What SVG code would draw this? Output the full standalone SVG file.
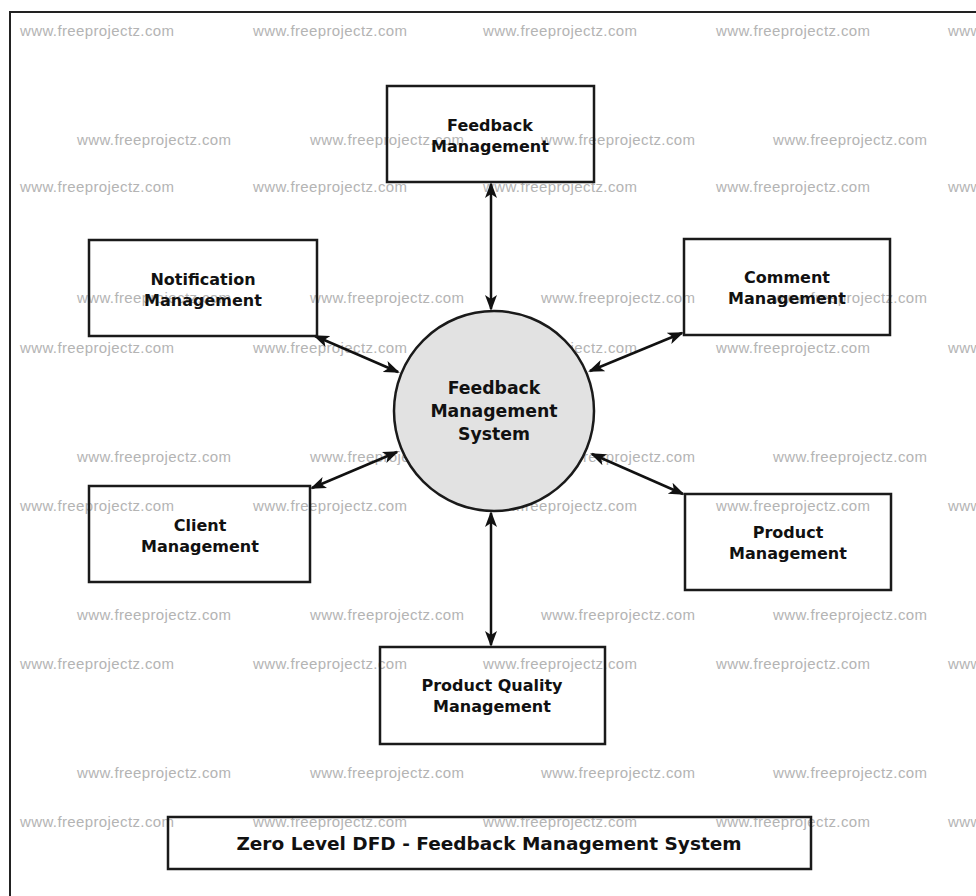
<svg xmlns="http://www.w3.org/2000/svg" width="976" height="896" viewBox="0 0 976 896">
<style>
.wm{font-family:"Liberation Sans",Arial,sans-serif;font-size:15px;fill:#b4b4b4}
.box{fill:none;stroke:#1a1a1a;stroke-width:2.5}
.lbl{font-family:"DejaVu Sans",sans-serif;font-weight:bold;font-size:16px;fill:#111;text-anchor:middle}
.big{font-size:17.3px}
.ttl{font-size:18.5px}
.conn{stroke:#111;stroke-width:2.5;fill:none;marker-start:url(#ah);marker-end:url(#ah)}
</style>
<defs>
<marker id="ah" markerUnits="userSpaceOnUse" markerWidth="18" markerHeight="14" refX="14" refY="6" orient="auto-start-reverse" viewBox="0 0 18 12">
<path d="M0,0 L16,6 L0,12 L4,6 Z" fill="#111"/>
</marker>
</defs>
<rect x="0" y="0" width="976" height="896" fill="#fff"/>
<rect x="10" y="12" width="990" height="900" fill="none" stroke="#222" stroke-width="2"/>
<g id="watermarks">
<text class="wm" x="20" y="36" textLength="154">www.freeprojectz.com</text>
<text class="wm" x="253" y="36" textLength="154">www.freeprojectz.com</text>
<text class="wm" x="483" y="36" textLength="154">www.freeprojectz.com</text>
<text class="wm" x="716" y="36" textLength="154">www.freeprojectz.com</text>
<text class="wm" x="948" y="36" textLength="154">www.freeprojectz.com</text>
<text class="wm" x="77" y="145" textLength="154">www.freeprojectz.com</text>
<text class="wm" x="310" y="145" textLength="154">www.freeprojectz.com</text>
<text class="wm" x="541" y="145" textLength="154">www.freeprojectz.com</text>
<text class="wm" x="773" y="145" textLength="154">www.freeprojectz.com</text>
<text class="wm" x="20" y="192" textLength="154">www.freeprojectz.com</text>
<text class="wm" x="253" y="192" textLength="154">www.freeprojectz.com</text>
<text class="wm" x="483" y="192" textLength="154">www.freeprojectz.com</text>
<text class="wm" x="716" y="192" textLength="154">www.freeprojectz.com</text>
<text class="wm" x="948" y="192" textLength="154">www.freeprojectz.com</text>
<text class="wm" x="77" y="303" textLength="154">www.freeprojectz.com</text>
<text class="wm" x="310" y="303" textLength="154">www.freeprojectz.com</text>
<text class="wm" x="541" y="303" textLength="154">www.freeprojectz.com</text>
<text class="wm" x="773" y="303" textLength="154">www.freeprojectz.com</text>
<text class="wm" x="20" y="353" textLength="154">www.freeprojectz.com</text>
<text class="wm" x="253" y="353" textLength="154">www.freeprojectz.com</text>
<text class="wm" x="483" y="353" textLength="154">www.freeprojectz.com</text>
<text class="wm" x="716" y="353" textLength="154">www.freeprojectz.com</text>
<text class="wm" x="948" y="353" textLength="154">www.freeprojectz.com</text>
<text class="wm" x="77" y="462" textLength="154">www.freeprojectz.com</text>
<text class="wm" x="310" y="462" textLength="154">www.freeprojectz.com</text>
<text class="wm" x="541" y="462" textLength="154">www.freeprojectz.com</text>
<text class="wm" x="773" y="462" textLength="154">www.freeprojectz.com</text>
<text class="wm" x="20" y="511" textLength="154">www.freeprojectz.com</text>
<text class="wm" x="253" y="511" textLength="154">www.freeprojectz.com</text>
<text class="wm" x="483" y="511" textLength="154">www.freeprojectz.com</text>
<text class="wm" x="716" y="511" textLength="154">www.freeprojectz.com</text>
<text class="wm" x="948" y="511" textLength="154">www.freeprojectz.com</text>
<text class="wm" x="77" y="620" textLength="154">www.freeprojectz.com</text>
<text class="wm" x="310" y="620" textLength="154">www.freeprojectz.com</text>
<text class="wm" x="541" y="620" textLength="154">www.freeprojectz.com</text>
<text class="wm" x="773" y="620" textLength="154">www.freeprojectz.com</text>
<text class="wm" x="20" y="669" textLength="154">www.freeprojectz.com</text>
<text class="wm" x="253" y="669" textLength="154">www.freeprojectz.com</text>
<text class="wm" x="483" y="669" textLength="154">www.freeprojectz.com</text>
<text class="wm" x="716" y="669" textLength="154">www.freeprojectz.com</text>
<text class="wm" x="948" y="669" textLength="154">www.freeprojectz.com</text>
<text class="wm" x="77" y="778" textLength="154">www.freeprojectz.com</text>
<text class="wm" x="310" y="778" textLength="154">www.freeprojectz.com</text>
<text class="wm" x="541" y="778" textLength="154">www.freeprojectz.com</text>
<text class="wm" x="773" y="778" textLength="154">www.freeprojectz.com</text>
<text class="wm" x="20" y="827" textLength="154">www.freeprojectz.com</text>
<text class="wm" x="253" y="827" textLength="154">www.freeprojectz.com</text>
<text class="wm" x="483" y="827" textLength="154">www.freeprojectz.com</text>
<text class="wm" x="716" y="827" textLength="154">www.freeprojectz.com</text>
<text class="wm" x="948" y="827" textLength="154">www.freeprojectz.com</text>
</g>
<g id="connectors">
<line class="conn" x1="491" y1="184" x2="491" y2="309"/>
<line class="conn" x1="315" y1="336" x2="398" y2="372"/>
<line class="conn" x1="682" y1="333" x2="590" y2="371"/>
<line class="conn" x1="312" y1="488" x2="397" y2="452"/>
<line class="conn" x1="592" y1="454" x2="683" y2="494"/>
<line class="conn" x1="491" y1="513" x2="491" y2="645"/>
</g>
<g id="system">
<circle cx="494" cy="411" r="100" fill="#e2e2e2" stroke="#1a1a1a" stroke-width="2.5"/>
<text class="lbl big" x="494" y="394">Feedback</text>
<text class="lbl big" x="494" y="417">Management</text>
<text class="lbl big" x="494" y="440">System</text>
</g>
<g id="feedback-management">
<rect class="box" x="387" y="86" width="207" height="96"/>
<text class="lbl" x="490" y="131">Feedback</text>
<text class="lbl" x="490" y="152">Management</text>
</g>
<g id="notification-management">
<rect class="box" x="89" y="240" width="228" height="96"/>
<text class="lbl" x="203" y="285">Notification</text>
<text class="lbl" x="203" y="306">Management</text>
</g>
<g id="comment-management">
<rect class="box" x="684" y="239" width="206" height="96"/>
<text class="lbl" x="787" y="283">Comment</text>
<text class="lbl" x="787" y="304">Management</text>
</g>
<g id="client-management">
<rect class="box" x="89" y="486" width="221" height="96"/>
<text class="lbl" x="200" y="531">Client</text>
<text class="lbl" x="200" y="552">Management</text>
</g>
<g id="product-management">
<rect class="box" x="685" y="494" width="206" height="96"/>
<text class="lbl" x="788" y="538">Product</text>
<text class="lbl" x="788" y="559">Management</text>
</g>
<g id="product-quality-management">
<rect class="box" x="380" y="647" width="225" height="97"/>
<text class="lbl" x="492" y="691">Product Quality</text>
<text class="lbl" x="492" y="712">Management</text>
</g>
<g id="title">
<rect class="box" x="168" y="817" width="643" height="52"/>
<text class="lbl ttl" x="489" y="850">Zero Level DFD - Feedback Management System</text>
</g>
</svg>
